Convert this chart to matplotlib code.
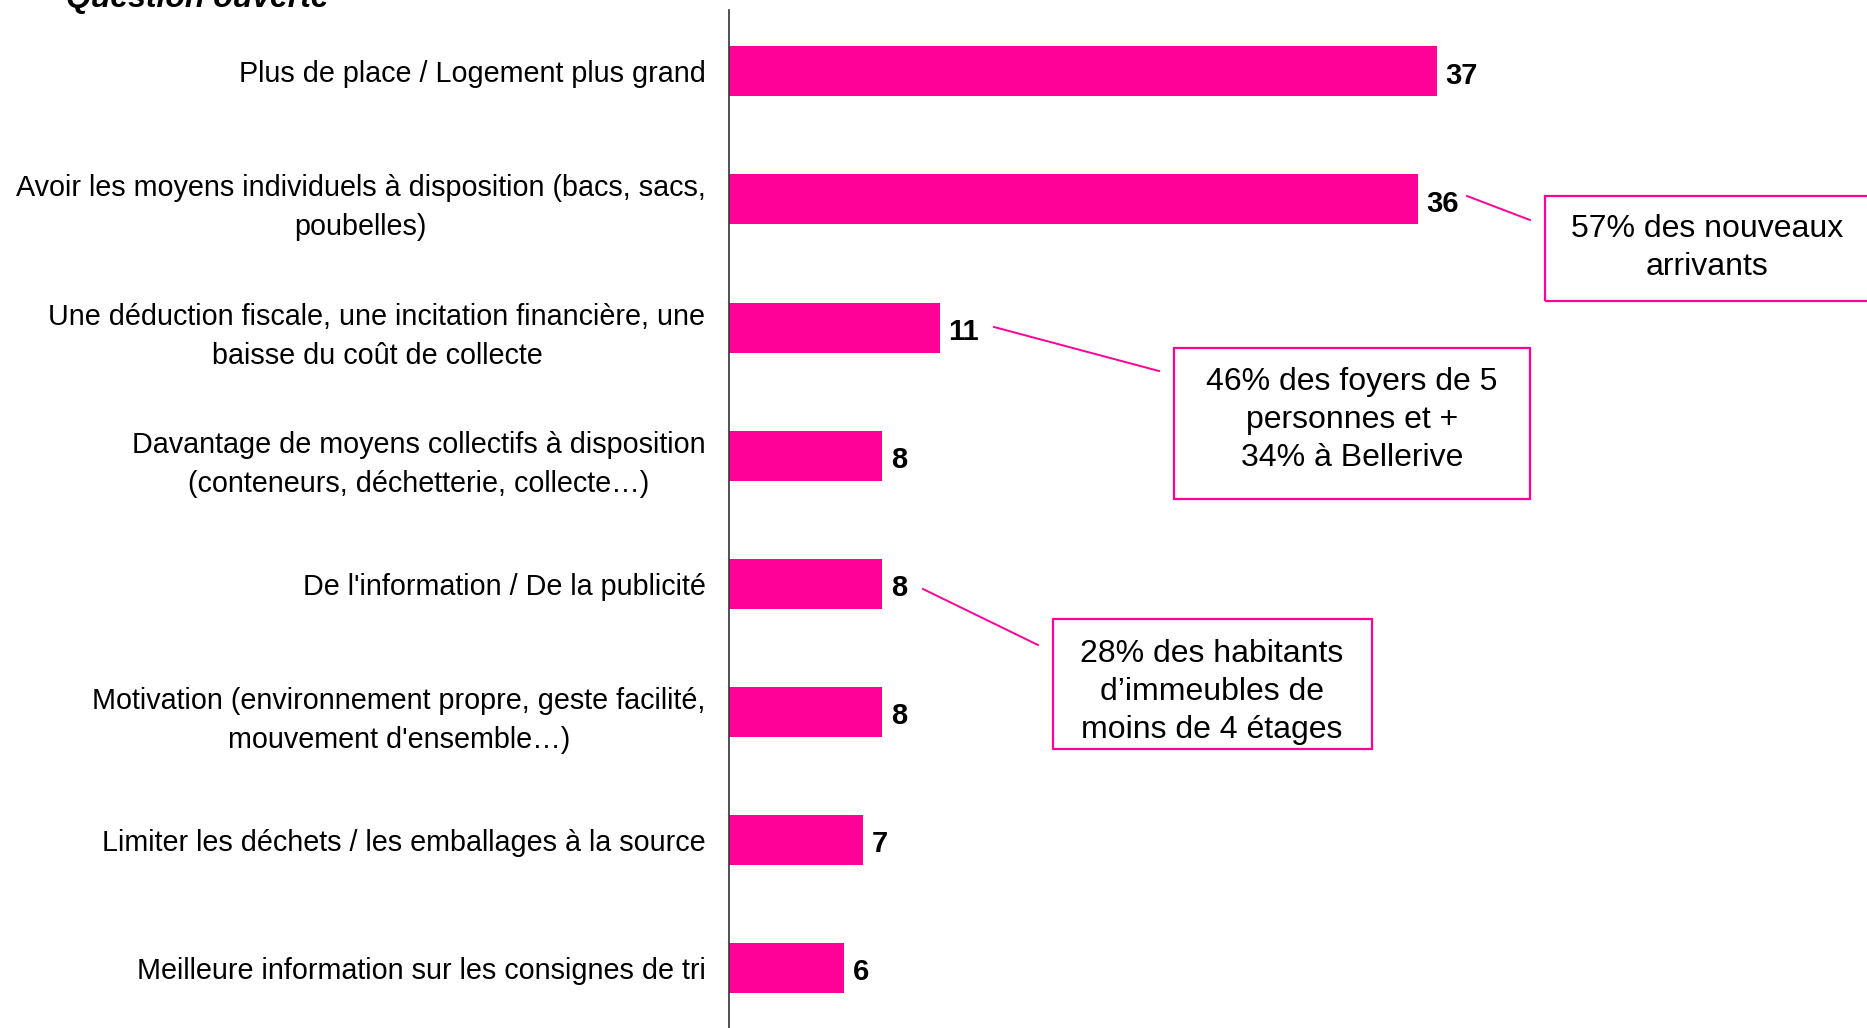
import matplotlib.pyplot as plt
from matplotlib.patches import Rectangle

plt.rcParams['font.family'] = ['Liberation Sans', 'DejaVu Sans']

labels = [
    "Plus de place / Logement plus grand",
    "Avoir les moyens individuels à disposition (bacs, sacs,\npoubelles)",
    "Une déduction fiscale, une incitation financière, une\nbaisse du coût de collecte",
    "Davantage de moyens collectifs à disposition\n(conteneurs, déchetterie, collecte…)",
    "De l'information / De la publicité",
    "Motivation (environnement propre, geste facilité,\nmouvement d'ensemble…)",
    "Limiter les déchets / les emballages à la source",
    "Meilleure information sur les consignes de tri",
]
values = [37, 36, 11, 8, 8, 8, 7, 6]

notes = [
    "57% des nouveaux\narrivants",
    "46% des foyers de 5\npersonnes et +\n34% à Bellerive",
    "28% des habitants\nd’immeubles de\nmoins de 4 étages",
]

pink = '#FF0099'
W, H = 1867, 1028

fig = plt.figure(figsize=(W / 100, H / 100), dpi=100)
ax = fig.add_axes([729 / W, 0, 1 - 729 / W, 1 - 10 / H])

pos = list(range(len(values)))
ax.barh(pos, values, height=0.39, color=pink)
ax.set_xlim(0, 59.46)
ax.set_ylim(7.467, -0.479)

for i, v in enumerate(values):
    ax.text(v + 0.45, i + 0.01, str(v), va='center_baseline', ha='left', fontsize=21, fontweight='bold')

ax.set_yticks(pos)
ax.set_yticklabels(labels, fontsize=20.7, multialignment='center', linespacing=1.5)
ax.tick_params(axis='y', length=0, pad=17)
ax.set_xticks([])
for s in ['top', 'right', 'bottom']:
    ax.spines[s].set_visible(False)
ax.spines['left'].set_linewidth(1.2)
ax.spines['left'].set_color('#333333')


def fx(px):
    return px / W


def fy(py):
    return 1 - py / H


# boxes: (x0, y0, x1, y1) in pixels, leader line from/to
boxes = [(1545, 196, 1905, 301), (1174, 348, 1530, 499), (1053, 619, 1372, 749)]
leaders = [((1467, 196), (1530, 220)), ((994, 327), (1159, 371)), ((923, 589), (1038, 645))]
centers = [(1707, 248), (1352, 420), (1212, 692)]

for (x0, y0, x1, y1), (p, q), (cx, cy), note in zip(boxes, leaders, centers, notes):
    fig.add_artist(Rectangle((fx(x0), fy(y1)), fx(x1) - fx(x0), fy(y0) - fy(y1),
                             transform=fig.transFigure, fill=False, edgecolor=pink, linewidth=1.6))
    fig.add_artist(plt.Line2D([fx(p[0]), fx(q[0])], [fy(p[1]), fy(q[1])],
                              transform=fig.transFigure, color=pink, linewidth=1.4))
    fig.text(fx(cx), fy(cy), note, ha='center', va='center', fontsize=23, linespacing=1.35)

fig.text(fx(66), fy(7), "Question ouverte", fontsize=23, fontweight='bold', fontstyle='italic',
         ha='left', va='baseline')

fig.savefig('out.png', dpi=100)
